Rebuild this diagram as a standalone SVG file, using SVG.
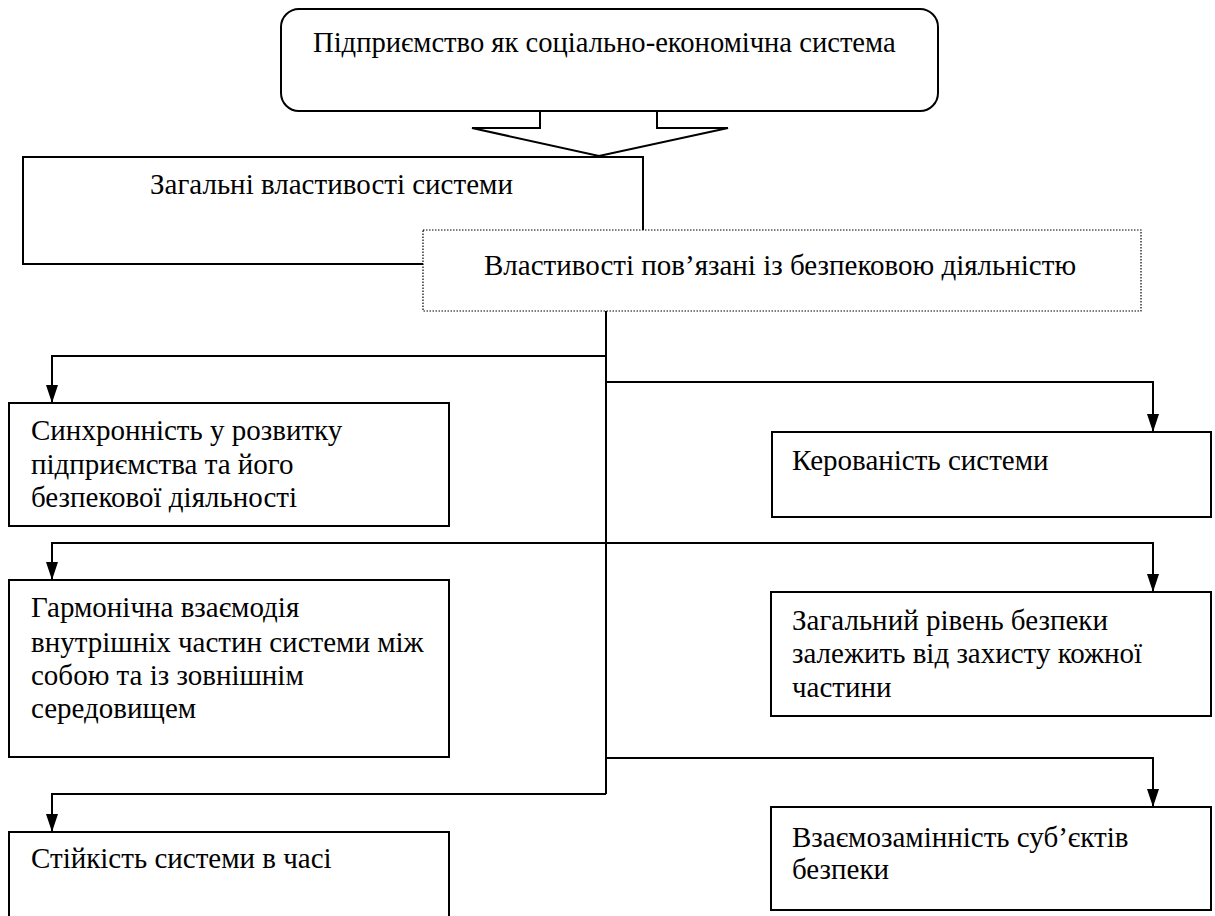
<svg xmlns="http://www.w3.org/2000/svg" width="1215" height="916" viewBox="0 0 1215 916">
  <defs>
    <style>
      .box { fill: #ffffff; stroke: #000000; stroke-width: 2; }
      .dotted { fill: #ffffff; stroke: #000000; stroke-width: 1.2; stroke-dasharray: 1.5 1.5; }
      .wire { fill: none; stroke: #000000; stroke-width: 2; }
      text { font-family: 'Liberation Serif', 'Times New Roman', serif; font-size: 29px; fill: #000000; }
    </style>
    <marker id="arrow" viewBox="0 0 18 12" refX="18" refY="6" markerWidth="18" markerHeight="12" markerUnits="userSpaceOnUse" orient="auto">
      <path d="M0,0 L18,6 L0,12 z" fill="#000000"/>
    </marker>
  </defs>
  <rect width="1215" height="916" fill="#ffffff"/>

  <!-- Root node -->
  <g id="node-enterprise">
    <rect class="box" x="281" y="9" width="657" height="102" rx="18" ry="18"/>
    <text x="313" y="52" style="font-size:28.6px">Підприємство як соціально-економічна система</text>
  </g>

  <!-- Hollow block arrow from the root node -->
  <g id="node-block-arrow">
    <polygon class="box" points="540,111 540,128 472,128 599,156 728,128 657,128 657,111"/>
  </g>

  <!-- General properties -->
  <g id="node-general">
    <rect class="box" x="23" y="157" width="620" height="107"/>
    <text x="150" y="194">Загальні властивості системи</text>
  </g>

  <!-- Security-related properties (dotted frame drawn over the lower-right corner) -->
  <g id="node-security">
    <rect class="dotted" x="423" y="230" width="718" height="81"/>
    <text x="484" y="275">Властивості пов’язані із безпековою діяльністю</text>
  </g>

  <!-- Connectors: one trunk with elbow branches -->
  <g id="connectors">
    <path class="wire" d="M606,311 V794"/>
    <path class="wire" d="M606,356 H52 V403" marker-end="url(#arrow)"/>
    <path class="wire" d="M606,382 H1153 V432" marker-end="url(#arrow)"/>
    <path class="wire" d="M606,543 H52 V580" marker-end="url(#arrow)"/>
    <path class="wire" d="M606,543 H1153 V592" marker-end="url(#arrow)"/>
    <path class="wire" d="M606,758 H1153 V807" marker-end="url(#arrow)"/>
    <path class="wire" d="M606,794 H52 V832" marker-end="url(#arrow)"/>
  </g>

  <g id="node-synchronicity">
    <rect class="box" x="9" y="403" width="440" height="123"/>
    <text x="31" y="440">Синхронність у розвитку</text>
    <text x="31" y="474">підприємства та його</text>
    <text x="31" y="507">безпекової діяльності</text>
  </g>

  <g id="node-controllability">
    <rect class="box" x="772" y="432" width="439" height="85"/>
    <text x="792" y="470">Керованість системи</text>
  </g>

  <g id="node-harmony">
    <rect class="box" x="9" y="580" width="440" height="177"/>
    <text x="31" y="617">Гармонічна взаємодія</text>
    <text x="31" y="652">внутрішніх частин системи між</text>
    <text x="31" y="685">собою та із зовнішнім</text>
    <text x="31" y="718">середовищем</text>
  </g>

  <g id="node-security-level">
    <rect class="box" x="771" y="592" width="440" height="124"/>
    <text x="792" y="630">Загальний рівень безпеки</text>
    <text x="792" y="663">залежить від захисту кожної</text>
    <text x="792" y="697">частини</text>
  </g>

  <g id="node-interchangeability">
    <rect class="box" x="771" y="807" width="440" height="103"/>
    <text x="792" y="847">Взаємозамінність суб’єктів</text>
    <text x="792" y="879">безпеки</text>
  </g>

  <!-- Bottom-left box runs past the lower edge -->
  <g id="node-stability">
    <path class="box" d="M9,918 V832 H449 V918"/>
    <text x="31" y="868">Стійкість системи в часі</text>
  </g>
</svg>
